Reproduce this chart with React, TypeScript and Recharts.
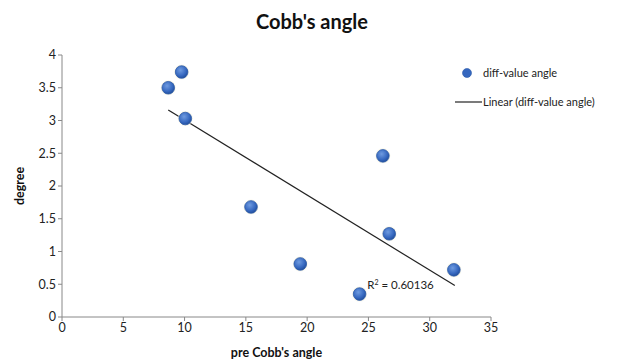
import React from 'react';
import {
  ComposedChart, Scatter, Line, XAxis, YAxis, Label, ReferenceDot,
} from 'recharts';

const preCobb = [8.67, 9.76, 10.06, 15.42, 19.44, 26.18, 26.7, 31.97, 24.28];
const diffValue = [3.5, 3.74, 3.03, 1.68, 0.81, 2.46, 1.27, 0.72, 0.35];
const trendX = [8.67, 32.05];
const trendY = [3.16, 0.48];
const xTicks = [0, 5, 10, 15, 20, 25, 30, 35];
const yTicks = [0, 0.5, 1, 1.5, 2, 2.5, 3, 3.5, 4];
const seriesName = 'diff-value angle';
const trendName = 'Linear (diff-value angle)';

const points = preCobb.map((x, i) => ({ x, y: diffValue[i] }));
const trend = trendX.map((x, i) => ({ x, t: trendY[i] }));

const font = 'Lato, "Open Sans", sans-serif';

const Dot = (props: any) => {
  const { cx, cy } = props;
  return (
    <g>
      <circle cx={cx} cy={cy} r={7.5} fill="#f3f0dc" opacity={0.6} />
      <circle cx={cx} cy={cy} r={6.3} fill="url(#dotGrad)" stroke="#2c5aa8" strokeWidth={0.8} />
    </g>
  );
};

const legendText: React.CSSProperties = {
  position: 'absolute', left: 34, whiteSpace: 'nowrap', lineHeight: '14px',
};

const LegendBox = () => (
  <div style={{ position: 'absolute', left: 449, top: 66, width: 180, height: 44, fontFamily: font, fontSize: 11, color: '#222' }}>
    <svg width={34} height={44} style={{ position: 'absolute', left: 0, top: 0 }}>
      <circle cx={18} cy={7} r={4.5} fill="#3567bf" stroke="#2c5aa8" strokeWidth={0.6} />
      <line x1={6} y1={36} x2={33} y2={36} stroke="#222" strokeWidth={1.2} />
    </svg>
    <span style={{ ...legendText, top: 0 }}>{seriesName}</span>
    <span style={{ ...legendText, top: 29 }}>{trendName}</span>
  </div>
);

export default function App() {
  return (
    <div style={{ position: 'absolute', left: 0, top: 0, width: 629, height: 364, background: '#fff' }}>
      <ComposedChart
        width={629}
        height={364}
        margin={{ top: 55, right: 138, bottom: 7, left: 0 }}
      >
        <defs>
          <radialGradient id="dotGrad" cx="40%" cy="35%" r="65%">
            <stop offset="0%" stopColor="#6f9be0" />
            <stop offset="70%" stopColor="#3567bf" />
            <stop offset="100%" stopColor="#24509c" />
          </radialGradient>
        </defs>
        <text x={312} y={29} textAnchor="middle" fontFamily={font} fontWeight={700} fontSize={20} fill="#111">
          Cobb's angle
        </text>
        <XAxis
          type="number"
          dataKey="x"
          domain={[0, 35]}
          ticks={xTicks}
          height={40}
          stroke="#888"
          tickSize={4}
          tick={{ fontFamily: font, fontSize: 12.5, fill: '#222' }}
          allowDataOverflow
        >
          <Label value="pre Cobb's angle" position="insideBottom" offset={0}
            style={{ fontFamily: font, fontWeight: 700, fontSize: 12.5, fill: '#111' }} />
        </XAxis>
        <YAxis
          type="number"
          domain={[0, 4]}
          ticks={yTicks}
          width={62}
          stroke="#888"
          tickSize={4}
          tick={{ fontFamily: font, fontSize: 12.5, fill: '#222' }}
        >
          <Label value="degree" angle={-90} position="center" dx={-11}
            style={{ fontFamily: font, fontWeight: 700, fontSize: 12.5, fill: '#111', textAnchor: 'middle' }} />
        </YAxis>
        <Line
          data={trend}
          dataKey="t"
          name={trendName}
          stroke="#222"
          strokeWidth={1.2}
          dot={false}
          activeDot={false}
          isAnimationActive={false}
        />
        <Scatter
          data={points}
          dataKey="y"
          name={seriesName}
          shape={<Dot />}
          isAnimationActive={false}
        />
        <ReferenceDot x={24.9} y={0.49} r={0} fill="none" stroke="none">
          <Label position="right" offset={0}
            content={(p: any) => (
              <text x={p.viewBox.x} y={p.viewBox.y + 4} fontFamily={font} fontSize={11.5} fill="#222">
                R<tspan dy={-4} fontSize={7}>2</tspan><tspan dy={4}> = 0.60136</tspan>
              </text>
            )} />
        </ReferenceDot>
      </ComposedChart>
      <LegendBox />
    </div>
  );
}
